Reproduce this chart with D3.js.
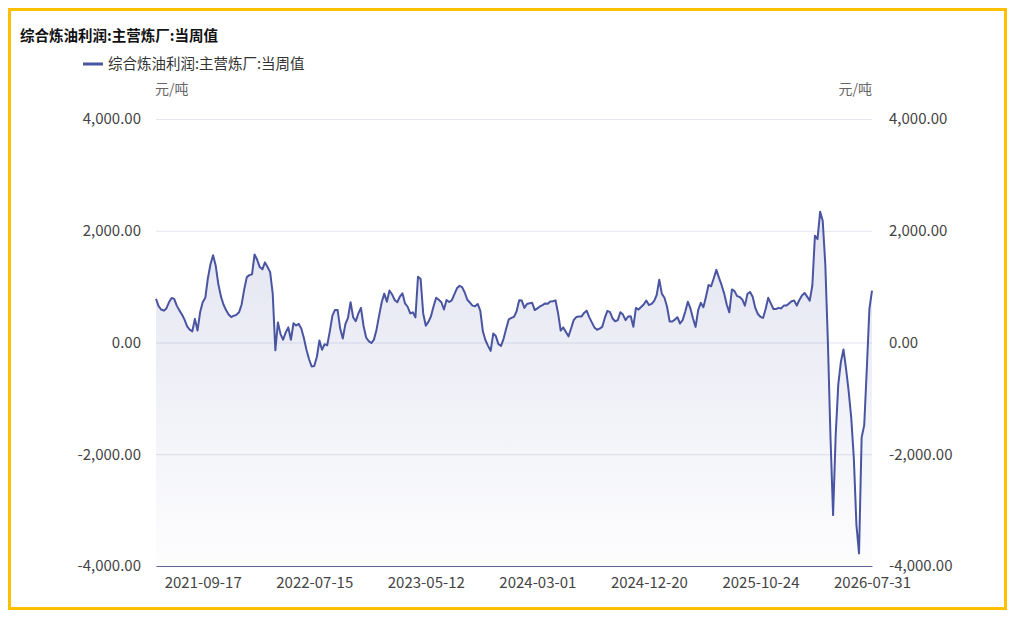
<!DOCTYPE html>
<html>
<head>
<meta charset="utf-8">
<script src="https://cdn.jsdelivr.net/npm/d3@7/dist/d3.min.js"></script>
<style>
  html, body { margin: 0; padding: 0; background: #fff; }
  svg { display: block; font-family: "Noto Sans CJK SC", "Noto Sans", sans-serif; }
</style>
</head>
<body>
<svg id="chart" width="1016" height="618"></svg>
<script>
const title = "综合炼油利润:主营炼厂:当周值";
const seriesName = "综合炼油利润:主营炼厂:当周值";
const unitLabel = "元/吨";
const yTicks = [-4000, -2000, 0, 2000, 4000];
const xTickLabels = ["2021-09-17", "2022-07-15", "2023-05-12", "2024-03-01", "2024-12-20", "2025-10-24", "2026-07-31"];
const xTickIndices = [18, 61, 104, 147, 190, 233, 276];
const values = [
  780, 650, 590, 570, 610, 720, 798, 780, 660, 575,
  500, 410, 290, 230, 200, 423, 214, 541, 720, 800,
  1150, 1400, 1560, 1380, 1050, 830, 680, 580, 500, 455,
  480, 495, 540, 680, 950, 1170, 1205, 1220, 1575, 1480,
  1350, 1310, 1434, 1350, 1260, 870, -140, 360, 150, 50,
  180, 270, 48, 345, 304, 333, 250, 80, -130, -300,
  -430, -420, -260, 36, -131, -30, -50, 200, 480, 583,
  583, 250, 70, 330, 440, 720, 452, 380, 520, 620,
  300, 90, 24, -10, 50, 230, 480, 720, 875, 730,
  930, 860, 760, 720, 820, 880, 700, 640, 520, 540,
  450, 1178, 1137, 520, 300, 370, 470, 650, 800, 765,
  720, 590, 760, 725, 755, 860, 970, 1015, 990, 895,
  765, 715, 660, 650, 690, 570, 200, 40, -60, -150,
  160, 115, -30, -60, 70, 250, 415, 440, 460, 560,
  755, 750, 620, 690, 702, 710, 580, 610, 645, 670,
  700, 695, 735, 738, 755, 520, 214, 270, 190, 110,
  250, 400, 455, 464, 464, 530, 570, 455, 360, 270,
  228, 248, 280, 440, 565, 545, 430, 381, 400, 541,
  500, 400, 465, 470, 280, 619, 590, 635, 680, 750,
  670, 690, 740, 850, 1125, 870, 800, 640, 375, 375,
  410, 452, 340, 400, 550, 730, 610, 430, 280, 580,
  710, 630, 820, 1030, 1006, 1150, 1300, 1160, 1030, 880,
  680, 540, 950, 920, 830, 815, 770, 660, 870, 905,
  820, 620, 510, 460, 440, 601, 800, 700, 600, 600,
  620, 610, 660, 660, 700, 740, 750, 660, 760, 840,
  887, 820, 750, 1020, 1911, 1851, 2339, 2179, 1400, 0,
  -1700, -3089, -1661, -750, -350, -125, -470, -870, -1350, -2077,
  -3268, -3774, -1700, -1480, -470, 601, 929
];

const svg = d3.select("#chart");
const lineColor = "#4a55a2";
const plotLeft = 156, plotRight = 872, plotTop = 119, plotBottom = 566;

// frame
svg.append("rect").attr("x", 9.5).attr("y", 9.5).attr("width", 996).attr("height", 599)
  .attr("fill", "#fff").attr("stroke", "#FFC000").attr("stroke-width", 3);

const x = d3.scaleLinear().domain([0, values.length - 1]).range([plotLeft, plotRight]);
const y = d3.scaleLinear().domain([d3.min(yTicks), d3.max(yTicks)]).range([plotBottom, plotTop]);

// title
svg.append("text").attr("x", 20).attr("y", 41).attr("font-size", 14.5).attr("font-weight", "bold")
  .attr("fill", "#111").text(title);

// legend
svg.append("line").attr("x1", 83).attr("x2", 103).attr("y1", 64).attr("y2", 64)
  .attr("stroke", lineColor).attr("stroke-width", 3);
svg.append("text").attr("x", 108).attr("y", 64).attr("dy", "0.35em").attr("font-size", 14.5)
  .attr("fill", "#333").text(seriesName);

// units
svg.append("text").attr("x", 155).attr("y", 89).attr("dy", "0.35em").attr("font-size", 14)
  .attr("fill", "#666").text(unitLabel);
svg.append("text").attr("x", 872).attr("y", 89).attr("dy", "0.35em").attr("font-size", 14)
  .attr("text-anchor", "end").attr("fill", "#666").text(unitLabel);

// grid
svg.append("g").selectAll("line").data(yTicks.filter(d => d !== d3.min(yTicks))).join("line")
  .attr("x1", plotLeft).attr("x2", plotRight).attr("y1", d => y(d) + 0.5).attr("y2", d => y(d) + 0.5)
  .attr("stroke", "#e3e5ef").attr("stroke-width", 1);

// gradient
const defs = svg.append("defs");
const grad = defs.append("linearGradient").attr("id", "areaGrad")
  .attr("gradientUnits", "userSpaceOnUse").attr("x1", 0).attr("x2", 0)
  .attr("y1", y(d3.max(values))).attr("y2", plotBottom);
grad.append("stop").attr("offset", "0%").attr("stop-color", lineColor).attr("stop-opacity", 0.16);
grad.append("stop").attr("offset", "100%").attr("stop-color", lineColor).attr("stop-opacity", 0.01);

const area = d3.area().x((d, i) => x(i)).y0(plotBottom).y1(d => y(d));
svg.append("path").datum(values).attr("d", area).attr("fill", "url(#areaGrad)");

// axes
const locale = d3.formatLocale({ decimal: ".", thousands: ",", grouping: [3], currency: ["", ""], minus: "-" });
const fmt = locale.format(",.2f");
const yAxisL = svg.append("g").attr("transform", `translate(${plotLeft - 12},0)`)
  .call(d3.axisLeft(y).tickValues(yTicks).tickFormat(fmt).tickSize(0));
const yAxisR = svg.append("g").attr("transform", `translate(${plotRight + 14},0)`)
  .call(d3.axisRight(y).tickValues(yTicks).tickFormat(fmt).tickSize(0));
[yAxisL, yAxisR].forEach(g => {
  g.select(".domain").remove();
  g.selectAll("text").attr("font-size", 15).attr("fill", "#444")
    .attr("font-family", "'Noto Sans CJK SC', sans-serif");
});

const xAxis = svg.append("g").attr("transform", `translate(0,${plotBottom})`)
  .call(d3.axisBottom(x).tickValues(xTickIndices)
    .tickFormat((d, i) => xTickLabels[i]).tickSize(0).tickPadding(11));
xAxis.select(".domain").attr("stroke", "#5c6394").attr("stroke-width", 1.2);
xAxis.selectAll("text").attr("font-size", 15).attr("fill", "#444")
  .attr("font-family", "'Noto Sans CJK SC', sans-serif");

// line
const line = d3.line().x((d, i) => x(i)).y(d => y(d));
svg.append("path").datum(values).attr("d", line).attr("fill", "none")
  .attr("stroke", lineColor).attr("stroke-width", 2).attr("stroke-linejoin", "round");
</script>
</body>
</html>
